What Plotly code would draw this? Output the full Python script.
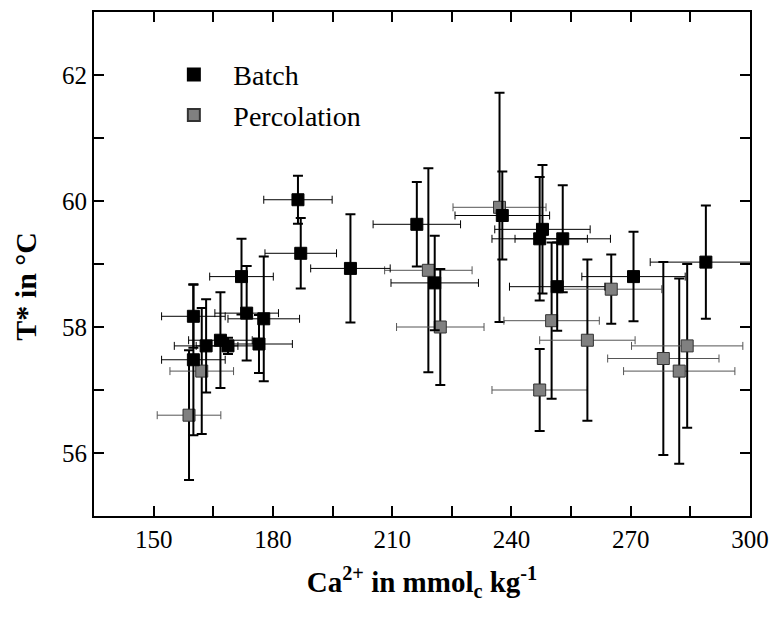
import plotly.graph_objects as go

# Batch series
batch_x = [160.0, 160.0, 163.2, 166.8, 168.7, 172.1, 173.4, 176.5, 177.7, 186.3, 187.0,
           199.5, 216.2, 220.7, 237.7, 247.1, 247.8, 251.5, 252.9, 270.7, 288.9]
batch_y = [58.17, 57.48, 57.70, 57.79, 57.70, 58.80, 58.22, 57.73, 58.13, 60.02, 59.17,
           58.93, 59.63, 58.70, 59.77, 59.40, 59.55, 58.64, 59.40, 58.80, 59.03]
batch_yerr = [0.5, 1.2, 0.74, 0.76, 0.13, 0.6, 0.75, 0.46, 0.99, 0.38, 0.56,
              0.86, 0.67, 0.75, 0.7, 0.98, 1.02, 0.7, 0.85, 0.71, 0.9]
batch_xerr = [8, 8, 8, 8, 8, 8, 8, 8.4, 9, 8.6, 9,
              10, 11, 11, 11.9, 12, 12, 12, 12, 13, 14]

# Percolation series
perc_x = [158.9, 162.1, 219.1, 222.1, 237.0, 247.1, 250.1, 259.1, 265.1, 278.2, 282.2, 284.2]
perc_y = [56.60, 57.30, 58.90, 58.00, 59.90, 57.00, 58.10, 57.79, 58.60, 57.50, 57.30, 57.70]
perc_yerr = [1.03, 1.0, 1.62, 0.92, 1.82, 0.65, 1.24, 1.28, 0.55, 1.53, 1.47, 1.3]
perc_xerr = [8, 8, 11, 11, 11.7, 12, 12, 12, 12.7, 14, 14, 14]

x_ticks = [150, 180, 210, 240, 270, 300]
y_ticks = [56, 58, 60, 62]

FONT = "Liberation Serif, Times New Roman, serif"

fig = go.Figure()

fig.add_trace(go.Scatter(
    x=perc_x, y=perc_y, mode="markers", name="Percolation", legendrank=2, legendgroup="p",
    marker=dict(symbol="square", size=12, color="#808080", line=dict(color="#333333", width=1)),
    error_y=dict(type="data", array=perc_yerr, color="black", thickness=2, width=5),
    error_x=dict(type="data", array=perc_xerr, color="#555555", thickness=1, width=4),
))
fig.add_trace(go.Scatter(
    x=batch_x, y=batch_y, mode="markers", name="Batch", legendrank=1, legendgroup="b",
    marker=dict(symbol="square", size=12, color="black", line=dict(color="black", width=1)),
    error_y=dict(type="data", array=batch_yerr, color="black", thickness=2, width=5),
    error_x=dict(type="data", array=batch_xerr, color="black", thickness=1, width=4),
))

axis_common = dict(
    showline=True, linecolor="black", linewidth=2, mirror="ticks",
    ticks="inside", ticklen=10, tickwidth=2, tickcolor="black",
    showgrid=False, zeroline=False,
    tickfont=dict(family=FONT, size=25, color="black"),
)

fig.update_xaxes(
    range=[135, 300], tickvals=x_ticks,
    minor=dict(ticks="inside", ticklen=10, tickwidth=2, dtick=15, tick0=0, tickcolor="black"),
    title=dict(text="<b>Ca<sup>2+</sup> in mmol<sub>c</sub> kg<sup>-1</sup></b>",
               font=dict(family=FONT, size=29, color="black"), standoff=20),
    **axis_common,
)
fig.update_yaxes(
    range=[55, 63], tickvals=y_ticks,
    minor=dict(ticks="inside", ticklen=10, tickwidth=2, dtick=1, tick0=0, tickcolor="black"),
    **axis_common,
)

fig.add_annotation(
    text="<b>T* in °C</b>", textangle=-90, showarrow=False,
    xref="paper", yref="paper", x=-0.104, y=0.4565, xanchor="center", yanchor="middle",
    font=dict(family=FONT, size=30, color="black"),
)

fig.update_layout(
    width=779, height=617,
    margin=dict(l=94, r=22, t=10, b=101),
    plot_bgcolor="white", paper_bgcolor="white",
    legend=dict(x=0.092, y=0.925, xanchor="left", yanchor="top",
                font=dict(family=FONT, size=28, color="black"),
                bgcolor="rgba(0,0,0,0)", tracegroupgap=1, itemwidth=69,
                itemsizing="constant"),
    showlegend=True,
)

fig.write_html("out.html")
